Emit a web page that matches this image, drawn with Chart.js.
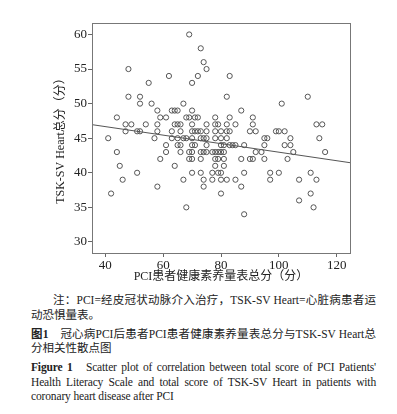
<!DOCTYPE html>
<html lang="zh">
<head>
<meta charset="UTF-8">
<title>PCI患者健康素养量表总分与TSK-SV Heart总分散点图</title>
<script src="https://cdn.jsdelivr.net/npm/chart.js"></script>
<style>
  html, body { margin: 0; padding: 0; background: #fff; }
  body { width: 397px; height: 414px; position: relative; overflow: hidden;
         font-family: "Liberation Serif", "Noto Sans CJK SC", serif; color: #222; }
  #wrap { position: absolute; left: 0; top: 0; width: 397px; height: 285px; }
  .cap { position: absolute; left: 31px; top: 293px; width: 345px; font-size: 11.5px; line-height: 14.5px; }
  .cap p { margin: 0; }
  .j { text-align: justify; text-align-last: justify; }
  .gap { margin-top: 4.5px !important; }
  .en { font-size: 11.5px; letter-spacing: -0.15px; }
</style>
</head>
<body>
<div id="wrap"><canvas id="scatter" width="397" height="285"></canvas></div>

<div class="cap">
  <p class="j" style="text-indent:22px">注：PCI=经皮冠状动脉介入治疗，TSK-SV Heart=心脏病患者运</p>
  <p>动恐惧量表。</p>
  <p class="j gap"><b>图1</b>　冠心病PCI后患者PCI患者健康素养量表总分与TSK-SV Heart总</p>
  <p>分相关性散点图</p>
  <p class="j gap en"><b>Figure 1</b>&nbsp;&nbsp; Scatter plot of correlation between total score of PCI Patients'</p>
  <p class="j en">Health Literacy Scale and total score of TSK-SV Heart in patients with</p>
  <p class="en">coronary heart disease after PCI</p>
</div>

<script>
// health literacy total score (x) and TSK-SV Heart total score (y), read row by row
const healthLiteracy = [
  69,
  73,
  74,
  48, 75,
  62, 72, 83,
  55, 70,
  48, 52, 82, 110,
  52, 56, 67, 101,
  58, 63, 64, 65, 70, 87,
  44, 59, 61, 68, 69, 71, 72, 78, 83, 91,
  47, 49, 54, 58, 64, 65, 66, 70, 75, 78, 79, 82, 85, 91, 113, 115,
  47, 51, 52, 58, 63, 66, 70, 71, 72, 73, 75, 78, 80, 82, 83, 90, 92, 99, 100, 102,
  41, 57, 63, 65, 67, 68, 70, 73, 74, 75, 78, 80, 82, 95, 96, 104, 114,
  61, 65, 66, 70, 71, 75, 80, 81, 83, 84, 85, 88, 95, 102, 104,
  44, 61, 66, 69, 70, 73, 74, 75, 77, 78, 79, 80, 81, 92, 94, 105, 116,
  59, 69, 70, 73, 78, 79, 81, 87, 90, 91, 95, 103,
  45, 64, 78, 81,
  51, 70, 73, 77, 79, 80, 88, 97, 100, 111,
  46, 67, 74, 77, 80, 82, 85, 97, 107, 113,
  58, 74, 87,
  42, 80, 111,
  107,
  68, 112,
  88
];
const tskHeart = [
  60,
  58,
  56,
  55, 55,
  54, 54, 54,
  53, 53,
  51, 51, 51, 51,
  50, 50, 50, 50,
  49, 49, 49, 49, 49, 49,
  48, 48, 48, 48, 48, 48, 48, 48, 48, 48,
  47, 47, 47, 47, 47, 47, 47, 47, 47, 47, 47, 47, 47, 47, 47, 47,
  46, 46, 46, 46, 46, 46, 46, 46, 46, 46, 46, 46, 46, 46, 46, 46, 46, 46, 46, 46,
  45, 45, 45, 45, 45, 45, 45, 45, 45, 45, 45, 45, 45, 45, 45, 45, 45,
  44, 44, 44, 44, 44, 44, 44, 44, 44, 44, 44, 44, 44, 44, 44,
  43, 43, 43, 43, 43, 43, 43, 43, 43, 43, 43, 43, 43, 43, 43, 43, 43,
  42, 42, 42, 42, 42, 42, 42, 42, 42, 42, 42, 42,
  41, 41, 41, 41,
  40, 40, 40, 40, 40, 40, 40, 40, 40, 40,
  39, 39, 39, 39, 39, 39, 39, 39, 39, 39,
  38, 38, 38,
  37, 37, 37,
  36,
  35, 35,
  34
];

// fitted regression line end points
const fitX = [35.4, 124.6];
const fitY = [46.96, 41.46];

const xTicks = [40, 60, 80, 100, 120];
const yTicks = [30, 35, 40, 45, 50, 55, 60];

const serif = 'Liberation Serif, Noto Sans CJK SC, serif';

// frame around the plot area
const framePlugin = {
  id: 'frame',
  afterDraw(chart) {
    const { ctx, chartArea: a } = chart;
    ctx.save();
    ctx.strokeStyle = '#777';
    ctx.lineWidth = 1;
    ctx.strokeRect(Math.round(a.left) + 0.5, Math.round(a.top) + 0.5,
                   Math.round(a.right - a.left), Math.round(a.bottom - a.top));
    ctx.restore();
  }
};

new Chart(document.getElementById('scatter'), {
  type: 'scatter',
  data: {
    datasets: [
      {
        data: healthLiteracy.map((x, i) => ({ x: x, y: tskHeart[i] })),
        pointStyle: 'circle',
        pointRadius: 2.6,
        pointBorderWidth: 1,
        pointBorderColor: '#555',
        pointBackgroundColor: 'rgba(0,0,0,0)'
      },
      {
        type: 'line',
        data: fitX.map((x, i) => ({ x: x, y: fitY[i] })),
        borderColor: '#555',
        borderWidth: 1,
        pointRadius: 0,
        fill: false
      }
    ]
  },
  options: {
    responsive: false,
    devicePixelRatio: 1,
    animation: false,
    layout: { padding: { left: 0, top: 23, right: 47, bottom: 0 } },
    plugins: { legend: { display: false }, tooltip: { enabled: false } },
    scales: {
      x: {
        type: 'linear',
        min: 35.4,
        max: 124.6,
        afterBuildTicks: s => { s.ticks = xTicks.map(v => ({ value: v })); },
        afterFit: s => { s.height = 32; },
        grid: { drawOnChartArea: false, drawTicks: true, tickLength: 4, color: '#666' },
        border: { display: false },
        ticks: { autoSkip: false, maxRotation: 0, padding: 1, color: '#222',
                 font: { family: serif, size: 13 } },
        title: { display: true, text: 'PCI患者健康素养量表总分（分）', color: '#222',
                 font: { family: serif, size: 12 }, padding: { top: 0, bottom: 1 } }
      },
      y: {
        type: 'linear',
        min: 28.4,
        max: 61.66,
        afterBuildTicks: s => { s.ticks = yTicks.map(v => ({ value: v })); },
        afterFit: s => { s.width = 92; },
        grid: { drawOnChartArea: false, drawTicks: true, tickLength: 4, color: '#666' },
        border: { display: false },
        ticks: { autoSkip: false, padding: 1, color: '#222',
                 font: { family: serif, size: 13 } },
        title: { display: true, text: 'TSK-SV Heart总分（分）', color: '#222',
                 font: { family: serif, size: 12 }, padding: { top: 54, bottom: 0 } }
      }
    }
  },
  plugins: [framePlugin]
});
</script>
</body>
</html>
